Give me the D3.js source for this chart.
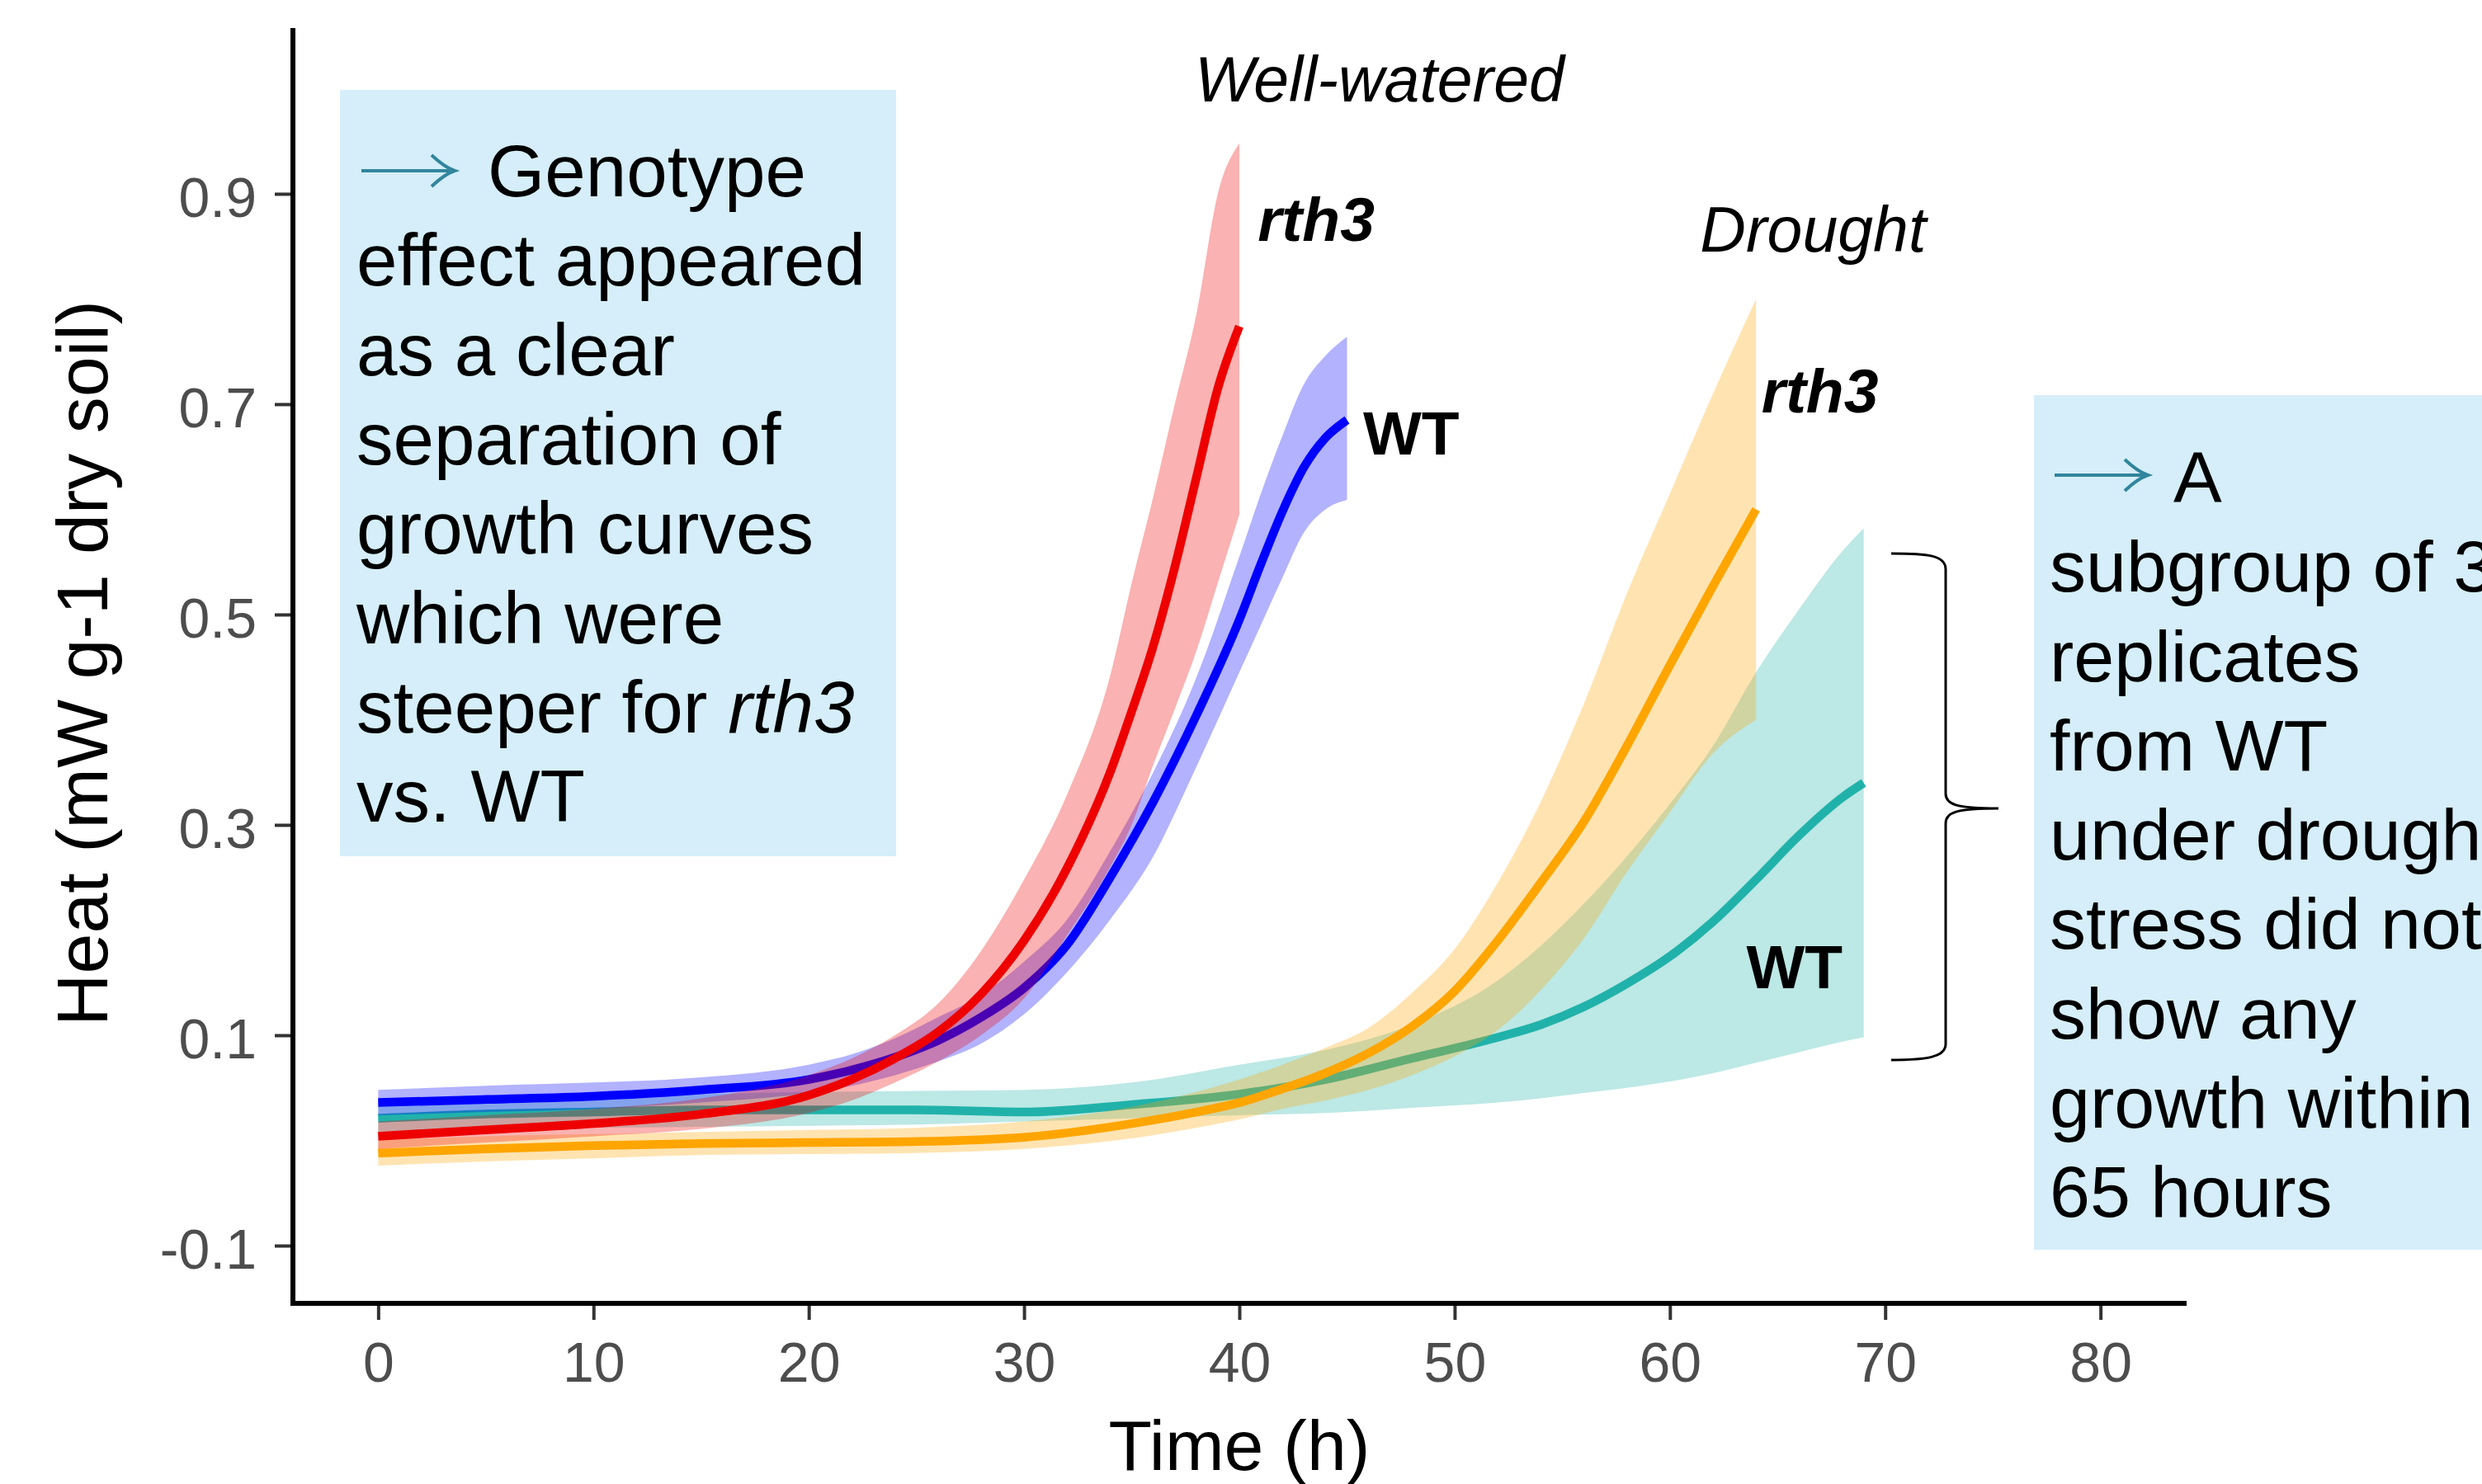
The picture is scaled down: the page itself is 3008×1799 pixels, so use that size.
<!DOCTYPE html>
<html>
<head>
<meta charset="utf-8">
<script src="https://cdn.jsdelivr.net/npm/d3@7"></script>
<style>
  html, body { margin: 0; padding: 0; background: #fff; }
  svg { display: block; font-family: "Liberation Sans", Arial, sans-serif; }
</style>
</head>
<body>
<svg id="chart"></svg>
<script>
// values: time (h) and heat (mW g-1 dry soil), mean with ribbon bounds
const hoursWtDrought = [0, 5, 10, 15, 20, 25, 30, 35, 40, 44, 48, 52, 54, 56, 58, 60, 62, 64, 66, 68, 69];
const meanWtDrought  = [0.021, 0.025, 0.027, 0.029, 0.029, 0.029, 0.027, 0.034, 0.044, 0.058, 0.078, 0.098, 0.110, 0.127, 0.149, 0.175, 0.208, 0.248, 0.290, 0.326, 0.340];
const upperWtDrought = [0.036, 0.040, 0.042, 0.044, 0.046, 0.047, 0.048, 0.055, 0.072, 0.086, 0.110, 0.152, 0.185, 0.225, 0.270, 0.320, 0.375, 0.445, 0.505, 0.560, 0.582];
const lowerWtDrought = [0.006, 0.010, 0.012, 0.013, 0.014, 0.015, 0.018, 0.021, 0.024, 0.026, 0.031, 0.036, 0.040, 0.045, 0.050, 0.056, 0.064, 0.074, 0.084, 0.094, 0.098];

const hoursRth3Drought = [0, 5, 10, 15, 20, 25, 30, 35, 38, 40, 42, 44, 46, 48, 50, 52, 54, 56, 58, 60, 62, 64];
const meanRth3Drought  = [-0.012, -0.008, -0.005, -0.003, -0.002, -0.001, 0.003, 0.016, 0.027, 0.036, 0.049, 0.064, 0.083, 0.108, 0.142, 0.190, 0.245, 0.303, 0.375, 0.452, 0.527, 0.600];
const upperRth3Drought = [0.000, 0.004, 0.006, 0.008, 0.010, 0.012, 0.018, 0.032, 0.046, 0.058, 0.072, 0.088, 0.107, 0.140, 0.182, 0.245, 0.322, 0.415, 0.520, 0.615, 0.710, 0.800];
const lowerRth3Drought = [-0.024, -0.020, -0.017, -0.014, -0.013, -0.012, -0.008, 0.002, 0.012, 0.020, 0.030, 0.038, 0.048, 0.062, 0.080, 0.105, 0.143, 0.192, 0.255, 0.312, 0.368, 0.400];

const hoursWtWell = [0, 5, 10, 15, 20, 22, 24, 26, 28, 30, 32, 34, 36, 38, 40, 41, 42, 43, 44, 45];
const meanWtWell  = [0.036, 0.039, 0.042, 0.048, 0.058, 0.067, 0.079, 0.095, 0.117, 0.145, 0.186, 0.250, 0.322, 0.404, 0.495, 0.548, 0.598, 0.640, 0.668, 0.685];
const upperWtWell = [0.048, 0.052, 0.055, 0.060, 0.072, 0.082, 0.097, 0.117, 0.138, 0.170, 0.210, 0.275, 0.350, 0.440, 0.555, 0.615, 0.670, 0.719, 0.746, 0.764];
const lowerWtWell = [0.024, 0.027, 0.030, 0.036, 0.045, 0.052, 0.062, 0.075, 0.092, 0.120, 0.160, 0.210, 0.270, 0.355, 0.445, 0.490, 0.535, 0.578, 0.600, 0.609];

const hoursRth3Well = [0, 5, 10, 15, 20, 22, 24, 26, 28, 30, 32, 34, 35, 36, 37, 38, 39, 40];
const meanRth3Well  = [0.004, 0.010, 0.016, 0.025, 0.043, 0.058, 0.078, 0.103, 0.139, 0.190, 0.259, 0.350, 0.408, 0.470, 0.545, 0.630, 0.715, 0.774];
const upperRth3Well = [0.018, 0.024, 0.030, 0.040, 0.062, 0.078, 0.100, 0.130, 0.180, 0.248, 0.329, 0.442, 0.530, 0.612, 0.700, 0.785, 0.900, 0.948];
const lowerRth3Well = [-0.008, -0.002, 0.004, 0.011, 0.026, 0.038, 0.055, 0.075, 0.100, 0.135, 0.195, 0.260, 0.300, 0.357, 0.410, 0.465, 0.530, 0.595];

const xTicks = [0, 10, 20, 30, 40, 50, 60, 70, 80];
const yTicks = [-0.1, 0.1, 0.3, 0.5, 0.7, 0.9];

// curve labels placed in data units
const curveLabels = [
  { text: "Well-watered", hour: 37.93, value: 0.988, style: "italic", weight: "normal", size: 77 },
  { text: "rth3", hour: 40.85, value: 0.855, style: "italic", weight: "bold", size: 75 },
  { text: "WT", hour: 45.75, value: 0.652, style: "normal", weight: "bold", size: 75 },
  { text: "Drought", hour: 61.4, value: 0.845, style: "italic", weight: "normal", size: 77 },
  { text: "rth3", hour: 64.25, value: 0.692, style: "italic", weight: "bold", size: 75 },
  { text: "WT", hour: 63.55, value: 0.145, style: "normal", weight: "bold", size: 75 }
];

const noteLeftLines = ["Genotype", "effect appeared", "as a clear", "separation of", "growth curves", "which were", "steeper for ", "vs. WT"];
const noteRightLines = ["A", "subgroup of 3", "replicates", "from WT", "under drought", "stress did not", "show any", "growth within", "65 hours"];

const width = 3008;
const height = 1799;
const font = "'Liberation Sans', Arial, sans-serif";

const svg = d3.select("#chart").attr("width", width).attr("height", height);

const x = d3.scaleLinear().domain([-4, 84]).range([354, 2650]);
const y = d3.scaleLinear().domain([-0.1549, 1.0576]).range([1580, 34]);

const series = [
  { hours: hoursWtDrought, mean: meanWtDrought, upper: upperWtDrought, lower: lowerWtDrought, color: "#20B2AA" },
  { hours: hoursRth3Drought, mean: meanRth3Drought, upper: upperRth3Drought, lower: lowerRth3Drought, color: "#FFA500" },
  { hours: hoursWtWell, mean: meanWtWell, upper: upperWtWell, lower: lowerWtWell, color: "#0000FF" },
  { hours: hoursRth3Well, mean: meanRth3Well, upper: upperRth3Well, lower: lowerRth3Well, color: "#EE0000" }
];

// annotation boxes (behind everything)
svg.append("rect").attr("x", 412).attr("y", 109).attr("width", 674).attr("height", 929).attr("fill", "#D5EEF9");
svg.append("rect").attr("x", 2465).attr("y", 479).attr("width", 600).attr("height", 1036).attr("fill", "#D5EEF9");

const area = d3.area().x((d) => x(d.h)).y0((d) => y(d.lo)).y1((d) => y(d.hi)).curve(d3.curveMonotoneX);
const line = d3.line().x((d) => x(d.h)).y((d) => y(d.m)).curve(d3.curveMonotoneX);

series.forEach((s) => {
  const rows = s.hours.map((h, i) => ({ h, m: s.mean[i], lo: s.lower[i], hi: s.upper[i] }));
  svg.append("path").datum(rows).attr("fill", s.color).attr("fill-opacity", 0.3).attr("d", area);
  svg
    .append("path")
    .datum(rows)
    .attr("fill", "none")
    .attr("stroke", s.color)
    .attr("stroke-width", 10.5)
    .attr("stroke-linejoin", "round")
    .attr("d", line);
});

// axes
const xAxis = svg
  .append("g")
  .attr("transform", "translate(0,1580)")
  .call(d3.axisBottom(x).tickValues(xTicks).tickSize(20).tickPadding(27).tickFormat(d3.format("d")));
xAxis.attr("font-size", 68).attr("font-family", font);
xAxis.select(".domain").remove();
xAxis.selectAll(".tick line").attr("stroke", "#333").attr("stroke-width", 4);
xAxis.selectAll(".tick text").attr("fill", "#4D4D4D");

const yAxis = svg
  .append("g")
  .attr("transform", "translate(355,0)")
  .call(d3.axisLeft(y).tickValues(yTicks).tickSize(22).tickPadding(22).tickFormat((d) => d.toFixed(1)));
yAxis.attr("font-size", 68).attr("font-family", font);
yAxis.select(".domain").remove();
yAxis.selectAll(".tick line").attr("stroke", "#333").attr("stroke-width", 4);
yAxis.selectAll(".tick text").attr("fill", "#4D4D4D").attr("dy", "0.4em");

svg.append("line").attr("x1", 355).attr("x2", 355).attr("y1", y.range()[1]).attr("y2", y.range()[0] + 3)
  .attr("stroke", "#000").attr("stroke-width", 6);
svg.append("line").attr("x1", 352).attr("x2", x.range()[1]).attr("y1", 1580).attr("y2", 1580)
  .attr("stroke", "#000").attr("stroke-width", 6);

svg
  .append("text")
  .attr("transform", "translate(130,804) rotate(-90)")
  .attr("text-anchor", "middle")
  .attr("font-size", 88)
  .attr("fill", "#000")
  .text("Heat (mW g-1 dry soil)");

svg
  .append("text")
  .attr("x", (x.range()[0] + x.range()[1]) / 2)
  .attr("y", 1782)
  .attr("text-anchor", "middle")
  .attr("font-size", 86)
  .attr("fill", "#000")
  .text("Time (h)");

// curve labels
svg
  .append("g")
  .selectAll("text")
  .data(curveLabels)
  .join("text")
  .attr("x", (d) => x(d.hour))
  .attr("y", (d) => y(d.value))
  .attr("font-size", (d) => d.size)
  .attr("font-style", (d) => d.style)
  .attr("font-weight", (d) => d.weight)
  .attr("fill", "#000")
  .text((d) => d.text);

// teal arrows in the notes
const arrowPath = (x0, x1, yy) =>
  `M${x0},${yy}H${x1 - 2}M${x1 - 28},${yy - 19}Q${x1 - 12},${yy - 4} ${x1},${yy}Q${x1 - 12},${yy + 4} ${x1 - 28},${yy + 19}`;

svg.append("path").attr("d", arrowPath(438, 551, 207)).attr("fill", "none").attr("stroke", "#31859C").attr("stroke-width", 4);
svg.append("path").attr("d", arrowPath(2490, 2603, 576)).attr("fill", "none").attr("stroke", "#31859C").attr("stroke-width", 4);

// left note
const leftNote = svg.append("text").attr("font-size", 89).attr("fill", "#000");
noteLeftLines.forEach((t, i) => {
  leftNote
    .append("tspan")
    .attr("x", i === 0 ? 591 : 432)
    .attr("y", 238 + i * 108.3)
    .text(t);
  if (t === "steeper for ") {
    leftNote.append("tspan").attr("font-style", "italic").text("rth3");
  }
});

// right note (runs off the right edge, as in the original)
const rightNote = svg.append("text").attr("font-size", 88).attr("fill", "#000");
noteRightLines.forEach((t, i) => {
  rightNote
    .append("tspan")
    .attr("x", i === 0 ? 2634 : 2484)
    .attr("y", 609 + i * 108.25)
    .text(t);
});

// brace grouping the WT drought replicates
svg
  .append("path")
  .attr(
    "d",
    "M2292,671 C2336,671 2358,673 2358,690 L2358,962 C2358,975 2370,980 2422,980 C2370,980 2358,985 2358,998 L2358,1266 C2358,1281 2336,1285 2292,1285"
  )
  .attr("fill", "none")
  .attr("stroke", "#000")
  .attr("stroke-width", 3);
</script>
</body>
</html>
